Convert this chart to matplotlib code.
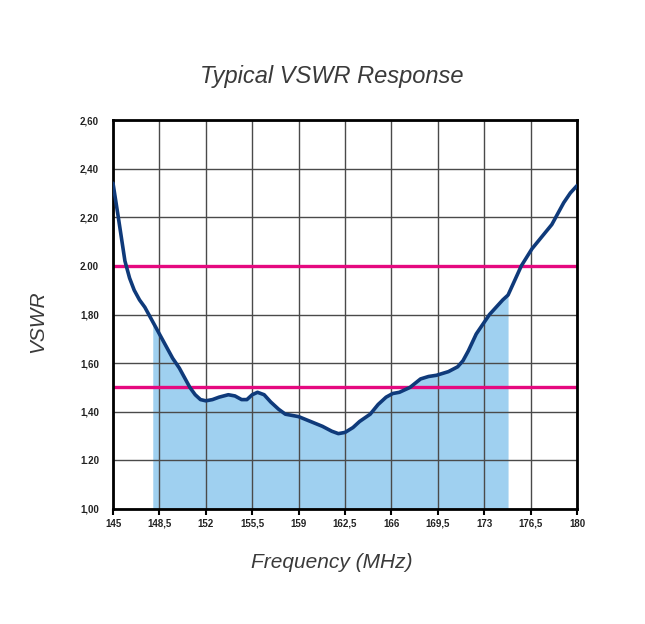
import numpy as np
import matplotlib
matplotlib.use("Agg")
import matplotlib.pyplot as plt

# frequency (MHz) and VSWR
freq = [145.0, 145.2, 145.4, 145.65, 145.9, 146.25, 146.6, 147.0, 147.4, 148.0,
        148.8, 149.5, 150.0, 150.4, 150.8, 151.2, 151.6, 152.0, 152.5, 153.0,
        153.7, 154.2, 154.7, 155.1, 155.5, 155.9, 156.4, 156.9, 157.5, 158.0,
        159.0, 159.9, 160.8, 161.5, 162.0, 162.5, 163.1, 163.6, 164.4, 165.0,
        165.6, 166.1, 166.6, 167.4, 168.2, 168.8, 169.4, 170.3, 171.0, 171.4,
        171.8, 172.4, 172.9, 173.4, 174.4, 174.8, 175.3, 175.8, 176.6, 177.5,
        178.1, 178.5, 179.0, 179.5, 180.0]
vswr = [2.34, 2.27, 2.20, 2.11, 2.02, 1.95, 1.90, 1.86, 1.83, 1.77,
        1.69, 1.62, 1.58, 1.54, 1.50, 1.47, 1.45, 1.445, 1.45, 1.46,
        1.47, 1.465, 1.45, 1.45, 1.47, 1.48, 1.47, 1.44, 1.41, 1.39,
        1.38, 1.36, 1.34, 1.32, 1.31, 1.315, 1.335, 1.36, 1.39, 1.43,
        1.46, 1.475, 1.48, 1.50, 1.535, 1.545, 1.55, 1.565, 1.585, 1.61,
        1.65, 1.72, 1.76, 1.80, 1.86, 1.88, 1.94, 2.00, 2.07, 2.13,
        2.17, 2.21, 2.26, 2.30, 2.33]

band = (148.0, 174.8)          # shaded operating band
limits = [1.5, 2.0]            # pink reference lines

x_ticks = [145, 148.5, 152, 155.5, 159, 162.5, 166, 169.5, 173, 176.5, 180]
x_labels = ["145", "148,5", "152", "155,5", "159", "162,5", "166", "169,5", "173", "176,5", "180"]
y_ticks = [1.0, 1.2, 1.4, 1.6, 1.8, 2.0, 2.2, 2.4, 2.6]
y_labels = ["1,00", "1.20", "1,40", "1,60", "1,80", "2.00", "2,20", "2,40", "2,60"]

plt.rcParams["font.family"] = ["Liberation Sans", "DejaVu Sans"]

fig = plt.figure(figsize=(6.45, 6.24), dpi=100)
ax = fig.add_axes([113 / 645, 115 / 624, 464 / 645, 389 / 624])

f = np.array(freq)
v = np.array(vswr)
mask = (f >= band[0]) & (f <= band[1])
ax.fill_between(f[mask], 1.0, v[mask], color="#9fd0f0", lw=0, zorder=1)

for lim in limits:
    ax.axhline(lim, color="#e5097f", lw=2.4, zorder=2)
ax.plot(f, v, color="#0f3a7a", lw=2.6, zorder=3,
        solid_capstyle="round", solid_joinstyle="round")

ax.set_xlim(145, 180)
ax.set_ylim(1.0, 2.6)
ax.set_xticks(x_ticks)
ax.set_xticklabels(x_labels)
ax.set_yticks(y_ticks)
ax.set_yticklabels(y_labels)
ax.grid(True, color="#4a4a4a", lw=1.0)

for s in ax.spines.values():
    s.set_linewidth(2)
    s.set_color("black")

ax.tick_params(axis="x", length=4, width=1.5, direction="out", pad=3,
               labelsize=7, labelcolor="#222222")
ax.tick_params(axis="y", length=0, pad=10, labelsize=7, labelcolor="#222222")
for lab in ax.get_xticklabels() + ax.get_yticklabels():
    lab.set_fontweight("bold")

fig.text(332 / 645, 1 - 77 / 624, "Typical VSWR Response", ha="center", va="center",
         fontsize=17, style="italic", color="#3a3a3a")
fig.text(332 / 645, 1 - 562 / 624, "Frequency (MHz)", ha="center", va="center",
         fontsize=15, style="italic", color="#3a3a3a")
fig.text(38 / 645, 1 - 322 / 624, "VSWR", ha="center", va="center", rotation=90,
         fontsize=15, style="italic", color="#3a3a3a")

fig.savefig("out.png", dpi=100, facecolor="white")
